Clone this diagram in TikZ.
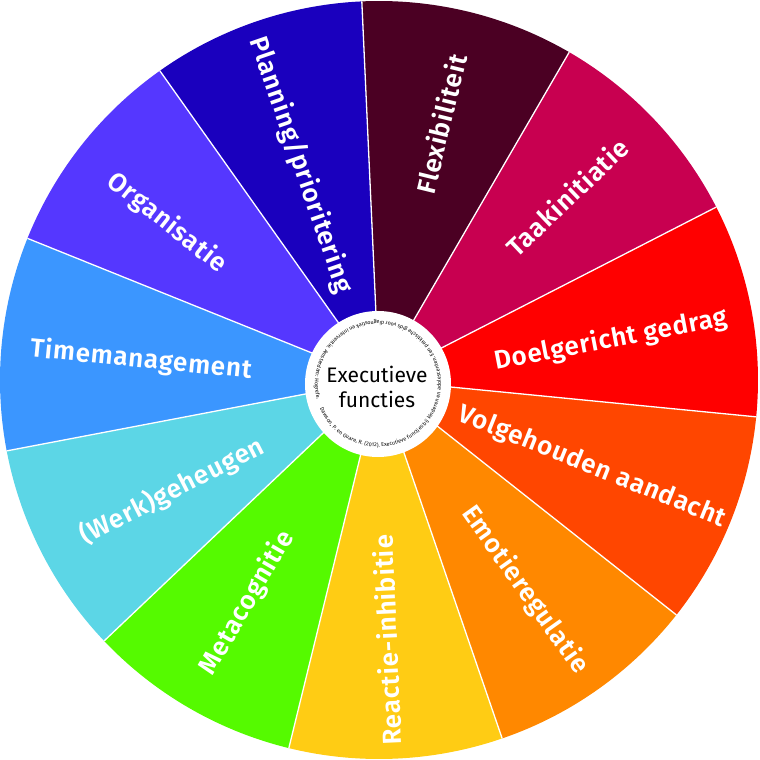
\documentclass[tikz,border=0pt]{standalone}
\usepackage{fontspec}
\setmainfont{Fira Sans}
\newfontfamily\labfont{Fira Sans SemiBold}[LetterSpace=3]
\usetikzlibrary{decorations.text}
\definecolor{planC}{RGB}{26,0,190}
\definecolor{flexC}{RGB}{75,0,35}
\definecolor{taakC}{RGB}{200,0,80}
\definecolor{doelC}{RGB}{255,0,0}
\definecolor{volgC}{RGB}{255,70,0}
\definecolor{emoC}{RGB}{255,136,0}
\definecolor{reacC}{RGB}{255,204,20}
\definecolor{metaC}{RGB}{85,250,0}
\definecolor{werkC}{RGB}{92,214,230}
\definecolor{timeC}{RGB}{59,150,255}
\definecolor{orgC}{RGB}{85,55,255}
\begin{document}
\begin{tikzpicture}[x=1pt,y=1pt,
  sep/.style={draw=white, line width=1.3pt},
  lab/.style={text=white, inner sep=0pt, font=\labfont\fontsize{26}{30}\selectfont},
  title/.style={text=black, inner sep=0pt, align=center, font=\fontsize{21}{25}\selectfont},
  hubc/.style={circle, fill=white, inner sep=0pt, minimum size=146pt}]
\useasboundingbox (-380,-380) rectangle (380,380);
\coordinate (c) at (-1,0);
\foreach \k/\col in {0/flexC,1/taakC,2/doelC,3/volgC,4/emoC,5/reacC,6/metaC,7/werkC,8/timeC,9/orgC,10/planC}{
  \pgfmathsetmacro\a{92.6-\k*32.72727}
  \pgfmathsetmacro\b{\a-32.72727}
  \fill[\col] (c) -- ++(\a:379) arc[start angle=\a, end angle=\b, radius=379] -- cycle;
}
\foreach \k in {0,...,10}{
  \pgfmathsetmacro\a{92.6-\k*32.72727}
  \draw[sep] (c) -- ++(\a:379);
}
\node[hubc] (hub) at (-2,-4) {};
\node[title] (t) at (-3,-7) {Executieve\\functies};
\path[decorate, decoration={text along path, text align={fit to path},
  text={|\fontsize{5.4}{6}\selectfont|Dawson, P. en Guare, R. (2012). Executieve functies bij kinderen en adolescenten. Een praktische gids voor diagnostiek en interventie. Amsterdam: Hogrefe.}}]
  (hub.center) ++(-157:63) arc[start angle=-157, end angle=194, radius=63];
\node[lab, rotate=-71] (l1) at (-79,215) {Planning/prioritering};
\node[lab, rotate=76.3] (l2) at (61,256) {Flexibiliteit};
\node[lab, rotate=43.6] (l3) at (187,183) {Taakinitiatie};
\node[lab, rotate=10.9] (l4) at (231,40) {Doelgericht gedrag};
\node[lab, rotate=-21.9] (l5) at (212,-87) {Volgehouden aandacht};
\node[lab, rotate=-54.6] (l6) at (145,-210) {Emotieregulatie};
\node[lab, rotate=92.6] (l7) at (7,-260) {Reactie-inhibitie};
\node[lab, rotate=59.9] (l8) at (-133,-223) {Metacognitie};
\node[lab, rotate=27.1] (l9) at (-208,-111) {(Werk)geheugen};
\node[lab, rotate=-5.6] (l10) at (-239,20) {Timemanagement};
\node[lab, rotate=-38.4] (l11) at (-213,157) {Organisatie};
\end{tikzpicture}
\end{document}
